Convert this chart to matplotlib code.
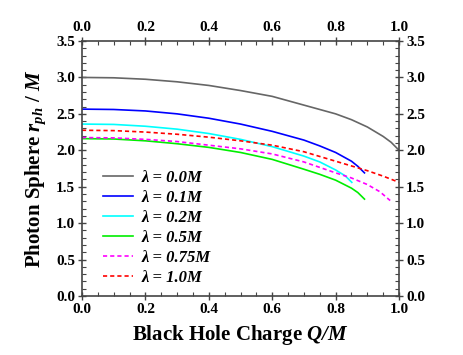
from matplotlib import pyplot as plt
from matplotlib.ticker import MultipleLocator

plt.rcParams['font.family'] = 'Liberation Serif'
plt.rcParams['font.weight'] = 'bold'
plt.rcParams['mathtext.fontset'] = 'custom'
plt.rcParams['mathtext.rm'] = 'Liberation Serif:italic:bold'
plt.rcParams['mathtext.it'] = 'Liberation Serif:italic:bold'

# values
q_00 = [0.0, 0.1, 0.2, 0.3, 0.4, 0.5, 0.6, 0.7, 0.8, 0.85, 0.9, 0.95, 0.975, 1.0]
r_00 = [3.0, 2.995, 2.975, 2.94, 2.89, 2.82, 2.74, 2.62, 2.50, 2.42, 2.32, 2.19, 2.11, 2.0]

q_01 = [0.0, 0.1, 0.2, 0.3, 0.4, 0.5, 0.6, 0.7, 0.75, 0.8, 0.85, 0.87, 0.891]
r_01 = [2.565, 2.56, 2.54, 2.50, 2.44, 2.36, 2.26, 2.14, 2.06, 1.97, 1.85, 1.78, 1.69]

q_02 = [0.0, 0.1, 0.2, 0.3, 0.4, 0.5, 0.6, 0.7, 0.75, 0.8, 0.83, 0.851]
r_02 = [2.36, 2.355, 2.33, 2.29, 2.23, 2.15, 2.05, 1.92, 1.84, 1.73, 1.65, 1.56]

q_05 = [0.0, 0.1, 0.2, 0.3, 0.4, 0.5, 0.6, 0.7, 0.75, 0.8, 0.85, 0.87, 0.891]
r_05 = [2.16, 2.155, 2.13, 2.09, 2.04, 1.97, 1.875, 1.74, 1.67, 1.59, 1.48, 1.42, 1.33]

q_075 = [0.0, 0.1, 0.2, 0.3, 0.4, 0.5, 0.6, 0.7, 0.8, 0.85, 0.9, 0.94, 0.972]
r_075 = [2.175, 2.17, 2.15, 2.12, 2.07, 2.02, 1.95, 1.84, 1.69, 1.62, 1.53, 1.43, 1.31]

q_10 = [0.0, 0.1, 0.2, 0.3, 0.4, 0.5, 0.6, 0.7, 0.8, 0.9, 0.95, 1.0]
r_10 = [2.275, 2.27, 2.25, 2.22, 2.18, 2.13, 2.07, 1.98, 1.85, 1.72, 1.645, 1.56]

fig = plt.figure(figsize=(4.64, 3.55), dpi=100)
ax = fig.add_axes([0.1767, 0.1662, 0.6833, 0.7183])

ax.plot(q_00, r_00, color='#666666', lw=1.2, label='λ = 0.0M')
ax.plot(q_01, r_01, color='#0000ff', lw=1.2, label='λ = 0.1M')
ax.plot(q_02, r_02, color='#00ffff', lw=1.2, label='λ = 0.2M')
ax.plot(q_05, r_05, color='#00ee00', lw=1.2, label='λ = 0.5M')
ax.plot(q_075, r_075, color='#ff00ff', lw=1.2, dashes=(2.5, 1.8), label='λ = 0.75M')
ax.plot(q_10, r_10, color='#ff0000', lw=1.2, dashes=(2.5, 1.8), label='λ = 1.0M')

ax.set_xlim(0, 1.0)
ax.set_ylim(0, 3.5)
ax.xaxis.set_major_locator(MultipleLocator(0.2))
ax.xaxis.set_minor_locator(MultipleLocator(0.05))
ax.yaxis.set_major_locator(MultipleLocator(0.5))
ax.yaxis.set_minor_locator(MultipleLocator(0.1))
ax.tick_params(which='both', top=True, right=True, labeltop=True, labelright=True,
               labelsize=11, color='#444444', pad=2)
ax.tick_params(which='major', direction='inout', length=6, width=1)
ax.tick_params(which='minor', direction='in', length=3, width=0.8)
for s in ax.spines.values():
    s.set_color('#444444')
    s.set_linewidth(1.2)

ax.set_xlabel('Black Hole Charge $Q/M$', fontsize=15, fontweight='bold', labelpad=5)
ax.set_ylabel('Photon Sphere $r_{ph}$ / $M$', fontsize=15, fontweight='bold', labelpad=6)

ax.legend(loc='lower left', bbox_to_anchor=(0.02, -0.02), frameon=False,
          prop={'family': 'Liberation Serif', 'weight': 'bold', 'style': 'italic', 'size': 12},
          handlelength=1.8, handletextpad=0.5, labelspacing=0.24)

fig.savefig('out.png', dpi=100)
